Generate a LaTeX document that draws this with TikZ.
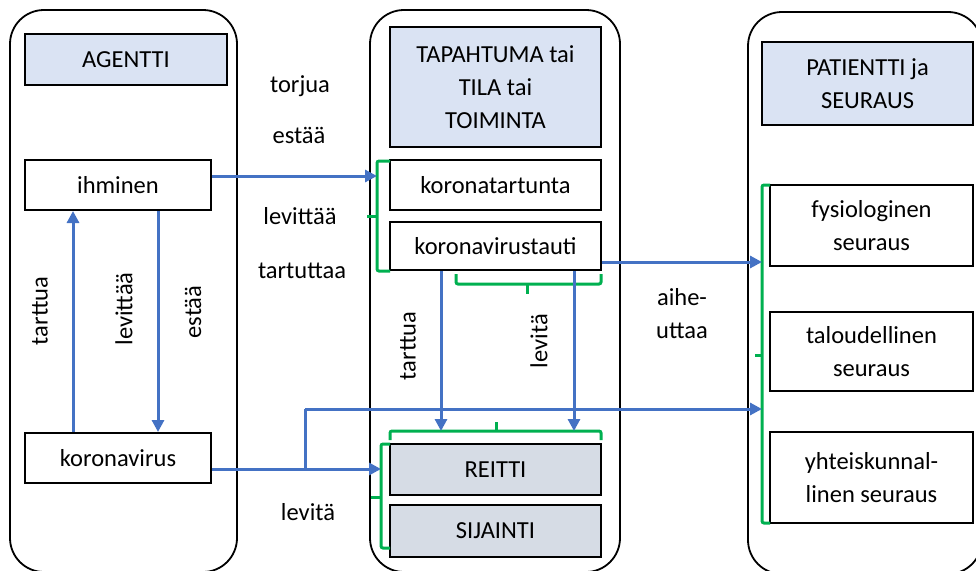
\documentclass[tikz,border=0pt]{standalone}
\usepackage{fontspec}
\setmainfont{Carlito}
\usetikzlibrary{arrows.meta,calc}
\definecolor{hdr}{HTML}{DAE3F3}
\definecolor{gry}{HTML}{D6DCE5}
\definecolor{blu}{HTML}{4472C4}
\definecolor{grn}{HTML}{00B050}
\begin{document}
\begin{tikzpicture}[x=1pt,y=-1pt,
  every node/.style={font=\fontsize{24.5}{33}\selectfont, inner sep=0pt},
  panel/.style={draw=black, line width=1.8pt, rounded corners=34pt},
  box/.style={draw=black, line width=2pt, fill=white, align=center},
  hbox/.style={box, fill=hdr},
  gbox/.style={box, fill=gry},
  arr/.style={draw=blu, line width=3pt, -{Triangle[length=12pt,width=12pt]}},
  bline/.style={draw=blu, line width=3pt},
  brk/.style={draw=grn, line width=3pt, rounded corners=2pt},
  lbl/.style={align=center}]
\useasboundingbox (0,0) rectangle (976,570);

% panels
\node[panel, minimum width=227pt, minimum height=562pt] (pA) at (123.5,291) {};
\node[panel, minimum width=250pt, minimum height=562pt] (pB) at (495,291) {};
\node[panel, minimum width=234pt, minimum height=562pt] (pC) at (865,293) {};

% left column
\node[hbox, minimum width=202pt, minimum height=51pt] (agentti) at (126,59.5) {AGENTTI};
\node[box, minimum width=186pt, minimum height=50pt] (ihminen) at (118,185) {ihminen};
\node[box, minimum width=186pt, minimum height=50pt] (korona) at (118,458) {koronavirus};

% middle column
\node[hbox, minimum width=211pt, minimum height=120pt] (tapahtuma) at (495.5,87) {TAPAHTUMA tai\\TILA tai\\TOIMINTA};
\node[box, minimum width=211pt, minimum height=50pt] (ktart) at (495.5,185) {koronatartunta};
\node[box, minimum width=211pt, minimum height=48pt] (ktauti) at (495.5,246) {koronavirustauti};
\node[gbox, minimum width=211pt, minimum height=51pt] (reitti) at (495.5,469.5) {REITTI};
\node[gbox, minimum width=211pt, minimum height=52pt] (sijainti) at (495.5,531) {SIJAINTI};

% right column
\node[hbox, minimum width=211pt, minimum height=83pt] (patientti) at (867.5,83.5) {PATIENTTI ja\\SEURAUS};
\node[box, minimum width=203pt, minimum height=81pt] (fysio) at (871.5,225.5) {fysiologinen\\seuraus};
\node[box, minimum width=203pt, minimum height=79pt] (talous) at (871.5,351.5) {taloudellinen\\seuraus};
\node[box, minimum width=203pt, minimum height=91pt] (yhteis) at (871.5,477.5) {yhteiskunnal-\\linen seuraus};

% green brackets
\draw[brk] (390,161) -- (377,161) -- (377,271) -- (390,271);
\draw[brk] (377,216) -- (367,216);
\draw[brk] (456,274) -- (456,284) -- (601,284) -- (601,274);
\draw[brk] (527,284) -- (527,294);
\draw[brk] (390,440) -- (390,431) -- (601,431) -- (601,440);
\draw[brk] (496,431) -- (496,422);
\draw[brk] (390,444) -- (381,444) -- (381,548) -- (390,548);
\draw[brk] (381,497) -- (371,497);
\draw[brk] (770,185) -- (762,185) -- (762,523) -- (770,523);
\draw[brk] (762,355) -- (755,355);

% bracket target coordinates
\coordinate (brA) at (377,176);
\coordinate (brB) at (381,469);
\coordinate (brTop) at (495,431);
\coordinate (brR1) at (762,262);
\coordinate (brR2) at (762,409);
\coordinate (split) at (305,469);
\coordinate (splitUp) at (305,409);

% left vertical arrows
\coordinate (upS) at ([xshift=49pt]korona.north west);
\coordinate (upE) at ([xshift=49pt]ihminen.south west);
\coordinate (dnS) at ([xshift=134pt]ihminen.south west);
\coordinate (dnE) at ([xshift=134pt]korona.north west);
\draw[arr] (upS) -- (upE);
\draw[arr] (dnS) -- (dnE);

% middle vertical arrows
\coordinate (m1) at ([xshift=52pt]ktauti.south west);
\coordinate (m2) at ([xshift=185pt]ktauti.south west);
\draw[arr] (m1) -- (m1 |- brTop);
\draw[arr] (m2) -- (m2 |- brTop);

% horizontal arrows
\draw[arr] (ihminen.east |- brA) -- (brA);
\draw[arr] (korona.east |- brB) -- (brB);
\draw[arr] (ktauti.east |- brR1) -- (brR1);
\draw[bline] (split) -- (splitUp);
\draw[arr] (splitUp) -- (brR2);

% labels
\node[lbl] (t1) at (300,86) {torjua};
\node[lbl] (t2) at (299,135) {estää};
\node[lbl] (t3) at (300,216) {levittää};
\node[lbl] (t4) at (302,271) {tartuttaa};
\node[lbl] (t5) at (308,512) {levitä};
\node[lbl] (t6) at (682,314) {aihe-\\uttaa};
\node[rotate=90] (r1) at (40,311) {tarttua};
\node[rotate=90] (r2) at (124,309) {levittää};
\node[rotate=90] (r3) at (193,312) {estää};
\node[rotate=90] (r4) at (408,346) {tarttua};
\node[rotate=90] (r5) at (539,341) {levitä};
\end{tikzpicture}
\end{document}
